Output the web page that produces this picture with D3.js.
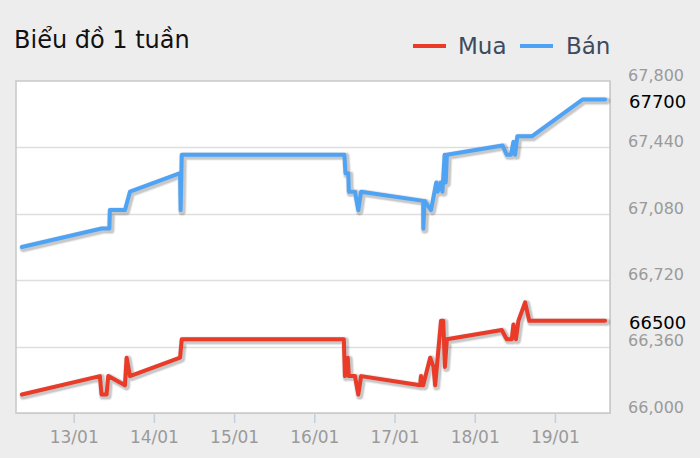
<!DOCTYPE html>
<html>
<head>
<meta charset="utf-8">
<script src="https://cdn.jsdelivr.net/npm/d3@7"></script>
<style>
  html, body { margin: 0; padding: 0; background: #ededed; }
  svg { display: block; font-family: "DejaVu Sans", sans-serif; }
</style>
</head>
<body>
<svg id="chart" width="700" height="458"></svg>
<script>
// ---- data ----
const title = "Biểu đồ 1 tuần";
const seriesNames = ["Mua", "Bán"];
const seriesColors = ["#ea3a28", "#4fa3f5"];

const buyTimes = [
  "2024-01-12 08:30", "2024-01-13 07:50", "2024-01-13 08:20", "2024-01-13 09:50",
  "2024-01-13 10:20", "2024-01-13 15:20", "2024-01-13 15:50", "2024-01-13 16:50",
  "2024-01-14 07:50", "2024-01-14 08:20", "2024-01-16 08:50", "2024-01-16 09:10",
  "2024-01-16 10:00", "2024-01-16 10:20", "2024-01-16 12:10", "2024-01-16 13:10",
  "2024-01-16 14:00", "2024-01-17 07:40", "2024-01-17 07:55", "2024-01-17 08:35",
  "2024-01-17 10:40", "2024-01-17 11:40", "2024-01-17 12:10", "2024-01-17 13:55",
  "2024-01-17 14:35", "2024-01-17 15:05", "2024-01-17 15:40", "2024-01-18 08:05",
  "2024-01-18 09:35", "2024-01-18 11:05", "2024-01-18 11:35", "2024-01-18 12:20",
  "2024-01-18 13:05", "2024-01-18 15:05", "2024-01-18 16:20", "2024-01-19 15:00"
];
const buyValues = [
  66100, 66200, 66100, 66100,
  66200, 66150, 66300, 66200,
  66300, 66400, 66400, 66200,
  66300, 66200, 66200, 66100,
  66200, 66150, 66200, 66150,
  66300, 66250, 66150, 66500,
  66500, 66250, 66400, 66450,
  66400, 66400, 66480, 66400,
  66500, 66600, 66500, 66500
];

const sellTimes = [
  "2024-01-12 08:30", "2024-01-13 08:20", "2024-01-13 10:40", "2024-01-13 10:50",
  "2024-01-13 15:20", "2024-01-13 16:50", "2024-01-14 07:50", "2024-01-14 08:00",
  "2024-01-14 08:20", "2024-01-16 09:00", "2024-01-16 09:20", "2024-01-16 10:10",
  "2024-01-16 10:20", "2024-01-16 12:10", "2024-01-16 13:10", "2024-01-16 14:00",
  "2024-01-17 08:35", "2024-01-17 08:37", "2024-01-17 09:00", "2024-01-17 10:55",
  "2024-01-17 12:30", "2024-01-17 12:55", "2024-01-17 13:50", "2024-01-17 14:20",
  "2024-01-17 15:00", "2024-01-17 15:20", "2024-01-17 15:40", "2024-01-18 08:20",
  "2024-01-18 09:35", "2024-01-18 10:50", "2024-01-18 11:35", "2024-01-18 12:05",
  "2024-01-18 12:45", "2024-01-18 17:05", "2024-01-19 08:20", "2024-01-19 15:00"
];
const sellValues = [
  66900, 67000, 67000, 67100,
  67100, 67200, 67300, 67100,
  67400, 67400, 67300, 67300,
  67200, 67200, 67100, 67200,
  67150, 67000, 67150, 67100,
  67250, 67200, 67250, 67200,
  67400, 67250, 67400, 67450,
  67400, 67400, 67470, 67400,
  67500, 67500, 67700, 67700
];

const xTickLabels = ["13/01", "14/01", "15/01", "16/01", "17/01", "18/01", "19/01"];
const yTicks = [66000, 66360, 66720, 67080, 67440, 67800];
const xDomain = ["2024-01-12 06:44", "2024-01-19 16:29"];
const lastLabels = [66500, 67700];

// ---- layout ----
const svg = d3.select("#chart");
const plot = { left: 16, top: 81, right: 610, bottom: 413 };
const parseT = d3.utcParse("%Y-%m-%d %H:%M");
const parseTick = d3.utcParse("%d/%m/%Y");

const x = d3.scaleUtc()
  .domain(xDomain.map(parseT))
  .range([plot.left, plot.right]);
const y = d3.scaleLinear()
  .domain([yTicks[0], yTicks[yTicks.length - 1]])
  .range([plot.bottom, plot.top]);

// plot background with shadow
svg.append("rect")
  .attr("x", plot.left + 1).attr("y", plot.top + 1)
  .attr("width", plot.right - plot.left).attr("height", plot.bottom - plot.top)
  .attr("fill", "#d6d6d6");
svg.append("rect")
  .attr("x", plot.left).attr("y", plot.top)
  .attr("width", plot.right - plot.left).attr("height", plot.bottom - plot.top)
  .attr("fill", "#ffffff");

// gridlines (y)
svg.append("g")
  .selectAll("line")
  .data(yTicks.slice(1, -1))
  .join("line")
  .attr("x1", plot.left).attr("x2", plot.right)
  .attr("y1", d => Math.round(y(d)) + 0.5).attr("y2", d => Math.round(y(d)) + 0.5)
  .attr("stroke", "#dedede").attr("stroke-width", 1.5);

// plot border
svg.append("rect")
  .attr("x", plot.left).attr("y", plot.top)
  .attr("width", plot.right - plot.left).attr("height", plot.bottom - plot.top)
  .attr("fill", "none").attr("stroke", "#c8c8c8").attr("stroke-width", 1.5);

// y axis labels on right
const yAxis = d3.axisRight(y)
  .tickValues(yTicks)
  .tickFormat(d3.format(","))
  .tickSize(0);
const yg = svg.append("g")
  .attr("transform", `translate(684,0)`)
  .call(yAxis);
yg.select(".domain").remove();
yg.selectAll("text")
  .attr("x", 0).attr("dy", "-0.05em")
  .attr("text-anchor", "end")
  .attr("fill", "#9a9a9a")
  .style("font-size", "16px")
  .style("font-family", "DejaVu Sans, sans-serif");

// x axis
const xTickValues = xTickLabels.map(s => parseTick(s + "/2024"));
const xAxis = d3.axisBottom(x)
  .tickValues(xTickValues)
  .tickFormat((d, i) => xTickLabels[i])
  .tickSize(10)
  .tickPadding(8);
const xg = svg.append("g")
  .attr("transform", `translate(0,${plot.bottom})`)
  .call(xAxis);
xg.select(".domain").remove();
xg.selectAll(".tick line").attr("stroke", "#c0d0e0").attr("stroke-width", 1.5);
xg.selectAll("text")
  .attr("fill", "#9a9a9a")
  .style("font-size", "17px")
  .style("font-family", "DejaVu Sans, sans-serif");

// series
const series = [
  { times: buyTimes, values: buyValues, color: seriesColors[0] },
  { times: sellTimes, values: sellValues, color: seriesColors[1] }
];
const line = d3.line()
  .x(d => x(d[0]))
  .y(d => y(d[1]));

series.forEach(s => {
  const pts = s.times.map((t, i) => [parseT(t), s.values[i]]);
  // shadow
  [[5, 0.05], [3.5, 0.08], [2, 0.1]].forEach(([w, o]) => {
    svg.append("path")
      .attr("d", line(pts))
      .attr("transform", "translate(1.5,1.5)")
      .attr("fill", "none")
      .attr("stroke", "#000")
      .attr("stroke-opacity", o)
      .attr("stroke-width", w + 4)
      .attr("stroke-linejoin", "round")
      .attr("stroke-linecap", "round");
  });
  svg.append("path")
    .attr("d", line(pts))
    .attr("fill", "none")
    .attr("stroke", s.color)
    .attr("stroke-width", 4)
    .attr("stroke-linejoin", "round")
    .attr("stroke-linecap", "round");
});

// last value labels
svg.append("g")
  .selectAll("text")
  .data(lastLabels)
  .join("text")
  .attr("x", 629)
  .attr("y", d => y(d) + 2)
  .attr("dominant-baseline", "central")
  .attr("fill", "#000")
  .style("font-size", "18px")
  .text(d => d);

// title
svg.append("text")
  .attr("x", 14).attr("y", 48)
  .attr("fill", "#111")
  .style("font-size", "24px")
  .text(title);

// legend
const legendItems = [
  { name: seriesNames[0], color: seriesColors[0], lx: 413, tx: 458 },
  { name: seriesNames[1], color: seriesColors[1], lx: 520, tx: 566 }
];
const lg = svg.append("g");
legendItems.forEach(it => {
  lg.append("line")
    .attr("x1", it.lx).attr("x2", it.lx + 33)
    .attr("y1", 46).attr("y2", 46)
    .attr("stroke", it.color).attr("stroke-width", 4);
  lg.append("text")
    .attr("x", it.tx).attr("y", 54)
    .attr("fill", "#3e4a5e")
    .style("font-size", "23px")
    .text(it.name);
});
</script>
</body>
</html>
